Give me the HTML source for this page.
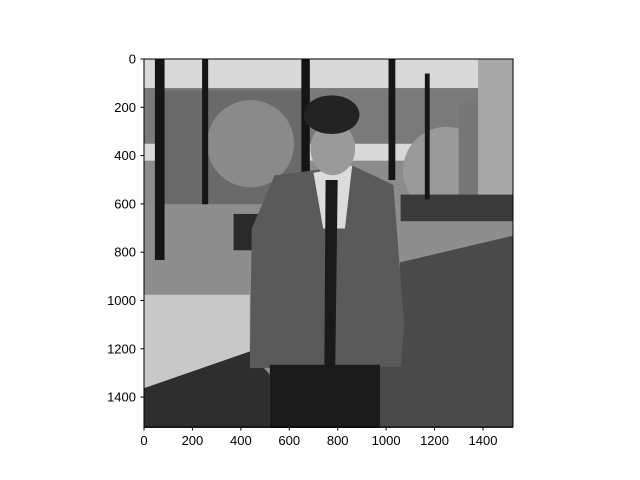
<!DOCTYPE html>
<html><head><meta charset="utf-8"><style>
body{margin:0;background:#fff;}
svg{display:block;font-family:"Liberation Sans","DejaVu Sans",sans-serif;}
</style></head><body>
<svg id="chart" width="640" height="480">
<g transform="translate(144,59) scale(0.2421)">
 <rect x="0" y="0" width="1524" height="1524" fill="#8c8c8c"/>
 <rect x="0" y="0" width="1524" height="420" fill="#d8d8d8"/>
 <rect x="0" y="120" width="1524" height="230" fill="#7a7a7a"/>
 <rect x="80" y="130" width="600" height="470" fill="#6a6a6a"/>
 <circle cx="440" cy="350" r="180" fill="#8a8a8a"/>
 <circle cx="1250" cy="460" r="180" fill="#9a9a9a"/>
 <rect x="1300" y="180" width="150" height="420" fill="#777"/>
 <rect x="1380" y="0" width="144" height="620" fill="#a8a8a8"/>
 <rect x="0" y="600" width="1524" height="420" fill="#8e8e8e"/>
 <rect x="1060" y="560" width="464" height="110" fill="#3a3a3a"/>
 <polygon points="1057,840 1524,730 1524,1524 520,1524 520,1300 1057,1200" fill="#4a4a4a"/>
 <polygon points="0,974 437,974 437,1208 0,1360" fill="#c8c8c8"/>
 <polygon points="0,1360 437,1208 520,1305 520,1524 0,1524" fill="#2e2e2e"/>
 <rect x="370" y="640" width="140" height="150" fill="#2a2a2a"/>
 <rect x="45" y="0" width="40" height="830" fill="#151515"/>
 <rect x="240" y="0" width="25" height="600" fill="#151515"/>
 <rect x="650" y="0" width="35" height="480" fill="#151515"/>
 <rect x="1010" y="0" width="28" height="500" fill="#151515"/>
 <rect x="1160" y="60" width="20" height="520" fill="#151515"/>
 <polygon points="540,480 860,440 1030,520 1075,1100 1060,1270 437,1277 445,700" fill="#5a5a5a"/>
 <polygon points="700,470 860,440 830,700 740,700" fill="#dcdcdc"/>
 <polygon points="750,500 800,500 790,1270 745,1270" fill="#1a1a1a"/>
 <rect x="520" y="1263" width="455" height="261" fill="#1a1a1a"/>
 <ellipse cx="780" cy="370" rx="92" ry="110" fill="#9a9a9a"/>
 <ellipse cx="775" cy="230" rx="115" ry="80" fill="#222"/>
</g>
<rect x="144" y="59" width="369" height="368" fill="none" stroke="#000" stroke-width="1"/>
<g id="xt"></g>
<g id="yt"></g>
<script>
const xTicks=[0,200,400,600,800,1000,1200,1400];
const yTicks=[0,200,400,600,800,1000,1200,1400];
const extent=1524;
const x0=144,y0=59,W=369,H=368;
const sx=v=>x0+v/extent*W, sy=v=>y0+v/extent*H;
const NS="http://www.w3.org/2000/svg";
const xg=document.getElementById('xt'), yg=document.getElementById('yt');
xTicks.forEach(t=>{
 const l=document.createElementNS(NS,'line');
 
 
 l.setAttribute('x1',sx(t));l.setAttribute('x2',sx(t));l.setAttribute('y1',427);l.setAttribute('y2',430.5);l.setAttribute('stroke','#000');
 xg.appendChild(l);
 const s=document.createElementNS(NS,'text');
 
 
 s.setAttribute('x',sx(t));s.setAttribute('y',445);s.setAttribute('text-anchor','middle');s.setAttribute('font-size','13');
 s.textContent=t;xg.appendChild(s);
});
yTicks.forEach(t=>{
 const l=document.createElementNS(NS,'line');
 
 
 l.setAttribute('x1',140.5);l.setAttribute('x2',144);l.setAttribute('y1',sy(t));l.setAttribute('y2',sy(t));l.setAttribute('stroke','#000');
 yg.appendChild(l);
 const s=document.createElementNS(NS,'text');
 
 
 s.setAttribute('x',136);s.setAttribute('y',sy(t)+4.5);s.setAttribute('text-anchor','end');s.setAttribute('font-size','13');
 s.textContent=t;yg.appendChild(s);
});
</script>
</svg>
</body></html>
